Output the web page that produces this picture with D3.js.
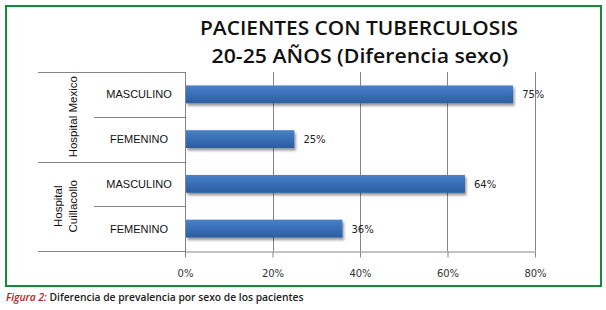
<!DOCTYPE html>
<html><head><meta charset="utf-8">
<script src="https://cdn.jsdelivr.net/npm/d3@7"></script>
<style>
html,body{margin:0;padding:0;background:#fff;}
svg{display:block;}
</style></head>
<body>
<svg id="chart" width="606" height="310"></svg>
<script>
const titleLines = ["PACIENTES CON TUBERCULOSIS", "20-25 AÑOS (Diferencia sexo)"];
const groups = ["Hospital Mexico", "Hospital Cuillacollo"];
const groupLabelLines = [["Hospital Mexico"], ["Hospital", "Cuillacollo"]];
const categories = ["MASCULINO", "FEMENINO", "MASCULINO", "FEMENINO"];
const categoryGroup = [0, 0, 1, 1];
const values = [0.75, 0.25, 0.64, 0.36];
const valueLabels = ["75%", "25%", "64%", "36%"];
const xTicks = [0, 0.2, 0.4, 0.6, 0.8];
const captionLead = "Figura 2:";
const captionText = " Diferencia de prevalencia por sexo de los pacientes";

(function(){
const svg = d3.select("#chart");
const defs = svg.append("defs");
const grad = defs.append("linearGradient").attr("id","barGrad").attr("x1",0).attr("y1",0).attr("x2",0).attr("y2",1);
grad.append("stop").attr("offset","0%").attr("stop-color","#4a82c6");
grad.append("stop").attr("offset","45%").attr("stop-color","#3a70b8");
grad.append("stop").attr("offset","100%").attr("stop-color","#2c5e9f");
const flt = defs.append("filter").attr("id","shadow").attr("x","-5%").attr("y","-20%").attr("width","115%").attr("height","160%");
flt.append("feDropShadow").attr("dx",1.5).attr("dy",2.5).attr("stdDeviation",1.3).attr("flood-color","#000").attr("flood-opacity",0.4);

// frame
svg.append("rect").attr("x",6).attr("y",6).attr("width",595).attr("height",280)
  .attr("fill","none").attr("stroke","#17893a").attr("stroke-width",2);

// title
const title = svg.append("text").attr("text-anchor","middle")
  .attr("font-family","'Open Sans', sans-serif").attr("font-weight","600").attr("font-size",19.5).attr("fill","#111");
title.append("tspan").attr("x",359).attr("y",35).attr("textLength",318).attr("lengthAdjust","spacingAndGlyphs").text(titleLines[0]);
title.append("tspan").attr("x",360).attr("y",63).attr("textLength",297).attr("lengthAdjust","spacingAndGlyphs").text(titleLines[1]);

const pLeft = 185, pRight = 535, pTop = 72, pBottom = 251;
const x = d3.scaleLinear().domain([0, 0.8]).range([pLeft, pRight]);
const y = d3.scaleBand().domain(d3.range(categories.length)).range([pTop, pBottom]).paddingInner(0.6).paddingOuter(0.3);
const yb = d3.scaleBand().domain(d3.range(categories.length)).range([pTop, pBottom]);

const axisColor = "#868686";
svg.append("g").selectAll("line").data(xTicks.slice(1)).join("line")
  .attr("x1", d => Math.round(x(d))+0.5).attr("x2", d => Math.round(x(d))+0.5)
  .attr("y1", pTop).attr("y2", pBottom).attr("stroke", axisColor).attr("stroke-width",1);

const xAxis = d3.axisBottom(x).tickValues(xTicks).tickFormat(d3.format(".0%")).tickSizeInner(6).tickSizeOuter(0).tickPadding(12);
const gx = svg.append("g").attr("transform",`translate(0,${pBottom+0.5})`).call(xAxis);
gx.select(".domain").attr("stroke",axisColor);
gx.selectAll(".tick line").attr("stroke",axisColor);
gx.selectAll(".tick text").attr("font-family","'DejaVu Sans', sans-serif").attr("font-size",10).attr("fill","#333");

svg.append("line").attr("x1",pLeft+0.5).attr("x2",pLeft+0.5).attr("y1",pTop).attr("y2",pBottom+6).attr("stroke",axisColor);

const catAxis = svg.append("g").attr("stroke",axisColor).attr("stroke-width",1);
d3.range(categories.length+1).forEach(i => {
  const yy = i < categories.length ? yb(i) : pBottom;
  const isGroupEdge = (i === 0 || i === categories.length || categoryGroup[i] !== categoryGroup[i-1]);
  catAxis.append("line").attr("x1", isGroupEdge ? 38 : 94).attr("x2", pLeft)
    .attr("y1", Math.round(yy)+0.5).attr("y2", Math.round(yy)+0.5);
});

svg.append("g").selectAll("text").data(categories).join("text")
  .attr("x", 139).attr("y", (d,i) => yb(i) + yb.bandwidth()/2 + 4)
  .attr("text-anchor","middle").attr("font-family","'Liberation Sans', Arial, sans-serif")
  .attr("font-size",11).attr("fill","#111").text(d => d);

groups.forEach((g, gi) => {
  const idx = categoryGroup.map((c,i)=>c===gi?i:-1).filter(i=>i>=0);
  const y0 = yb(idx[0]), y1 = yb(idx[idx.length-1]) + yb.bandwidth();
  const cy = (y0 + y1)/2;
  const lines = groupLabelLines[gi];
  const baseX = lines.length === 1 ? 77 : 62;
  lines.forEach((ln, li) => {
    const tx = baseX + li*15;
    svg.append("text").attr("transform",`translate(${tx},${cy}) rotate(-90)`)
      .attr("text-anchor","middle").attr("font-family","'Liberation Sans', Arial, sans-serif")
      .attr("font-size",11.5).attr("fill","#111").text(ln);
  });
});

svg.append("g").selectAll("rect").data(values).join("rect")
  .attr("x", pLeft+1).attr("y", (d,i) => y(i)).attr("width", d => x(d) - pLeft - 1).attr("height", y.bandwidth())
  .attr("fill","url(#barGrad)").attr("filter","url(#shadow)");

svg.append("g").selectAll("text").data(values).join("text")
  .attr("x", d => x(d) + 9).attr("y", (d,i) => y(i) + y.bandwidth()/2 + 4)
  .attr("font-family","'DejaVu Sans', sans-serif").attr("font-size",10).attr("fill","#222")
  .text((d,i) => valueLabels[i]);

const cap = svg.append("text").attr("x",6).attr("y",301).attr("font-family","'Open Sans', sans-serif").attr("font-size",10.3).attr("font-weight","600");
cap.append("tspan").attr("fill","#b01e23").attr("font-style","italic").text(captionLead);
cap.append("tspan").attr("fill","#222").text(captionText);
})();
</script>
</body></html>
